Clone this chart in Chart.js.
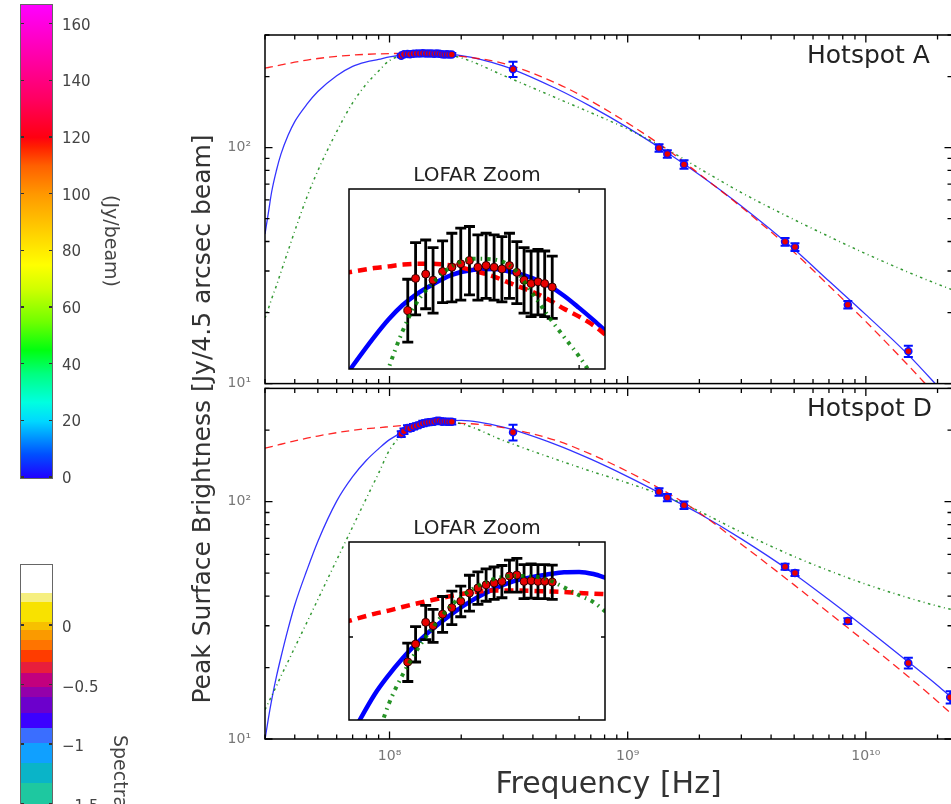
<!DOCTYPE html>
<html><head><meta charset="utf-8">
<script src="https://cdn.jsdelivr.net/npm/chart.js@4.4.1/dist/chart.umd.min.js"></script>
<style>
html,body{margin:0;padding:0;overflow:hidden;background:#fff;width:951px;height:804px;}
#wrap{position:relative;width:951px;height:804px;overflow:hidden;font-family:'DejaVu Sans',sans-serif;}
canvas{position:absolute;}
.t{position:absolute;white-space:nowrap;}
</style></head><body><div id="wrap">
<canvas id="cA" width="960" height="406" style="left:0;top:0"></canvas>
<canvas id="cD" width="960" height="438" style="left:0;top:366px"></canvas>
<canvas id="iA" width="266" height="210" style="left:344px;top:164px"></canvas>
<canvas id="iD" width="266" height="208" style="left:344px;top:517px"></canvas>
<div class="t" style="left:-118px;top:403.5px;width:640px;height:30px;line-height:30px;font-size:25px;text-align:center;color:#333;transform:rotate(-90deg);">Peak Surface Brightness [Jy/4.5 arcsec beam]</div>
<div class="t" style="left:807px;top:42px;font-size:25px;line-height:25px;color:#222;">Hotspot A</div>
<div class="t" style="left:807px;top:395px;font-size:25px;line-height:25px;color:#222;">Hotspot D</div>
<div id="cb1" style="position:absolute;left:20px;top:4px;width:33px;height:475px;box-sizing:border-box;border:1px solid #666;"></div>
<div id="cb2" style="position:absolute;left:20px;top:564px;width:33px;height:260px;box-sizing:border-box;border:1px solid #666;"></div>
<div class="t" style="left:52px;top:229px;width:120px;height:24px;line-height:24px;font-size:19px;text-align:center;color:#444;transform:rotate(90deg);">(Jy/beam)</div>
<div class="t" style="left:132px;top:735px;line-height:22px;font-size:19px;color:#444;transform-origin:0 0;transform:rotate(90deg);">Spectral Index</div>
</div>
<script>
// ---------------- data ----------------
const freqGrid = [3e7, 3.1e7, 3.2e7, 3.35e7, 3.5e7, 3.75e7, 4e7, 4.5e7, 5e7, 6e7, 7e7, 8e7, 9e7, 1e8, 1.2e8, 1.5e8, 2e8, 3e8, 5e8, 7e8, 1e9, 1.5e9, 2e9, 3e9, 5e9, 7e9, 1e10, 1.5e10, 2e10, 2.3e10];
const blueA  = [43, 53, 65, 80, 93.8, 112.7, 128.9, 152.7, 172.8, 201.7, 221, 230.8, 236.4, 242.3, 248, 250, 245.5, 222, 178, 149.5, 121.5, 93.7, 76.8, 56.6, 37.1, 27.2, 19.6, 13.3, 9.75, 8.34];
const redA   = [217, 218.5, 220, 222.2, 224, 227.2, 230, 234.8, 238.5, 243.5, 246.5, 248.5, 249.6, 250.3, 250.6, 249.3, 243.5, 227.5, 187.8, 157.7, 127, 96.5, 77.2, 56, 36, 26, 18.3, 12, 8.8, 7.6];
const greenA = [18.96, 20.8, 22.9, 26.0, 29.7, 36.5, 44.3, 61.7, 79.8, 116.9, 154.8, 186.1, 211.3, 234, 248, 251, 240, 202.4, 162.5, 140.6, 119.8, 97, 81.6, 64.5, 49.5, 42, 35.5, 29.7, 26.4, 25.0];
const blueD  = [9.95, 12.2, 14.6, 18.3, 22.1, 29.1, 36.7, 51.5, 68, 100.5, 127.4, 149.4, 167.1, 182.5, 201, 215, 220, 206, 174, 151, 127.5, 103.5, 88.9, 69.7, 49.6, 38.6, 29.3, 21.2, 16.8, 14.9];
const redD   = [168, 169.4, 170.7, 172.6, 174.5, 177.5, 180.3, 185, 189, 195.2, 199.7, 202.9, 205, 207, 210.5, 213.5, 213.5, 205, 181, 158.5, 133.9, 107.6, 89.8, 66.2, 44.6, 34, 25.6, 18.4, 14.4, 12.7];
const greenD = [13.3, 14.2, 15.2, 16.7, 18.4, 21.2, 24.3, 31.0, 38.7, 56.8, 78.3, 103.5, 131.8, 165, 201, 218, 213, 181.1, 150.7, 134.4, 119.9, 103.6, 91.0, 74.3, 58.7, 51.2, 44.9, 39.4, 36.3, 35.1];

const lofarFreq = [1.12e8, 1.15e8, 1.19e8, 1.22e8, 1.26e8, 1.30e8, 1.34e8, 1.38e8, 1.42e8, 1.46e8, 1.50e8, 1.54e8, 1.58e8, 1.62e8, 1.66e8, 1.70e8, 1.74e8, 1.78e8, 1.826e8];
const lofarA    = [245.2, 248.9, 249.4, 248.7, 249.7, 250.2, 250.6, 251.0, 250.2, 250.4, 250.2, 250.0, 250.4, 249.6, 248.7, 248.3, 248.5, 248.3, 247.9];
const lofarAerr = [3.6, 4.2, 4.0, 3.8, 3.6, 4.0, 4.2, 4.0, 3.8, 3.8, 3.8, 3.8, 3.8, 3.6, 3.8, 3.8, 3.8, 3.8, 3.6];
const lofarD    = [192.7, 197.9, 204.4, 203.4, 206.9, 208.9, 210.9, 213.5, 215.1, 216.1, 216.7, 217.2, 219.0, 219.3, 217.2, 217.4, 217.2, 217.2, 217.0];
const lofarDerr = [5.5, 5.2, 5.2, 5.0, 5.5, 5.2, 4.8, 5.7, 5.2, 5.2, 5.2, 5.2, 5.2, 5.5, 5.5, 5.5, 5.5, 5.5, 5.5];

const highFreqA = [3.3e8, 1.354e9, 1.467e9, 1.724e9, 4.58e9, 5.04e9, 8.4e9, 1.508e10];
const highA     = [215, 99.7, 94, 84.8, 39.9, 37.9, 21.6, 13.7];
const highAerr  = [16, 3.6, 3.4, 3.5, 1.5, 1.4, 0.8, 0.75];
const highFreqD = [3.3e8, 1.354e9, 1.467e9, 1.724e9, 4.58e9, 5.04e9, 8.4e9, 1.508e10, 2.26e10];
const highD     = [196, 110, 104, 96.6, 53.2, 50, 31.4, 20.9, 15];
const highDerr  = [15, 4, 3.7, 3.5, 1.5, 1.4, 0.9, 1.1, 0.9];

const insetFreq   = [9.0e7, 1.0e8, 1.05e8, 1.1e8, 1.15e8, 1.2e8, 1.3e8, 1.4e8, 1.5e8, 1.6e8, 1.7e8, 1.8e8, 1.9e8, 2.0e8, 2.1e8, 2.2e8];
const insetBlueA  = [237.5, 242.2, 244.2, 245.8, 247.0, 247.9, 249.3, 249.9, 250.0, 249.6, 249.0, 248.1, 246.9, 245.5, 244.1, 242.7];
const insetRedA   = [249.5, 250.1, 250.3, 250.5, 250.6, 250.6, 250.4, 249.8, 249.1, 248.2, 247.4, 246.5, 245.4, 244.5, 243.5, 242.3];
const insetGreenA = [226, 233.5, 238.7, 242.8, 245.9, 247.8, 250.3, 251.2, 251.1, 250.1, 247.4, 244.6, 242.2, 240.0, 237.6, 235];
const insetBlueD  = [169, 183.5, 189, 193.7, 197.8, 201.3, 207, 211.5, 214.8, 217.2, 218.6, 219.5, 220.2, 220.3, 219.6, 218.2];
const insetRedD   = [204.3, 207, 208, 209.1, 210.1, 211, 212.6, 213.8, 214.3, 214.3, 214.2, 214.0, 213.8, 213.5, 213.3, 213.1];
const insetGreenD = [150, 170, 181, 189, 195.5, 201, 209.8, 215, 218, 219, 218.9, 217.8, 215.3, 212.8, 210.6, 207.2];

// axes
const xRange = [3e7, 2.3e10];
const yRange = [10, 300];
const xTickVals = [3e7,4e7,5e7,6e7,7e7,8e7,9e7,1e8,2e8,3e8,4e8,5e8,6e8,7e8,8e8,9e8,1e9,2e9,3e9,4e9,5e9,6e9,7e9,8e9,9e9,1e10,2e10];
const yTickVals = [10,20,30,40,50,60,70,80,90,100,200,300];
const xMajor = [1e8, 1e9, 1e10];
const xTickText = ['10\u2078', '10\u2079', '10\u00B9\u2070'];
const yMajor = [10, 100];
const yTickText = ['10\u00B9', '10\u00B2'];
const insetXRange = [9.18e7, 2.183e8];
const insetYRangeA = [238.6, 259.5];
const insetYRangeD = [176.8, 230.3];
const insetXTicks = [2e8];
const insetYTicksA = [];
const insetYTicksD = [200];

// colorbars
const cb1Vals = [0, 20, 40, 60, 80, 100, 120, 140, 160];
const cb1Max = 166.6;
const cb2Vals = [0, -0.5, -1, -1.5];
const cb2Text = ['0', '\u22120.5', '\u22121', '\u22121.5'];

// ---------------- plugins ----------------
Chart.defaults.font.family = "'DejaVu Sans', sans-serif";
Chart.defaults.animation = false;

const P = (xs, ys) => xs.map((x, i) => ({x: x, y: ys[i]}));

function kindOf(v) {
  const e = Math.floor(Math.log10(v) + 1e-9);
  const m = v / Math.pow(10, e);
  const r = Math.round(m);
  if (Math.abs(m - r) > 1e-6) return null;
  return r === 1 ? 'major' : 'minor';
}

const frameTicks = {
  id: 'frameTicks',
  afterDraw(chart, args, o) {
    const ctx = chart.ctx, a = chart.chartArea;
    const xs = chart.scales.x, ys = chart.scales.y;
    ctx.save();
    ctx.strokeStyle = '#000';
    ctx.lineWidth = o.tickWidth;
    ctx.beginPath();
    xs.ticks.forEach(t => {
      const k = kindOf(t.value);
      if (!k || (k === 'major' && !o.major)) return;
      const L = k === 'major' ? o.majorLen : o.minorLen;
      const p = xs.getPixelForValue(t.value);
      if (p < a.left - 0.5 || p > a.right + 0.5) return;
      ctx.moveTo(p, a.bottom); ctx.lineTo(p, a.bottom - L);
      ctx.moveTo(p, a.top); ctx.lineTo(p, a.top + L);
    });
    ys.ticks.forEach(t => {
      const k = kindOf(t.value);
      if (!k || (k === 'major' && !o.major)) return;
      const L = k === 'major' ? o.majorLen : o.minorLen;
      const p = ys.getPixelForValue(t.value);
      if (p < a.top - 0.5 || p > a.bottom + 0.5) return;
      ctx.moveTo(a.left, p); ctx.lineTo(a.left + L, p);
      ctx.moveTo(a.right, p); ctx.lineTo(a.right - L, p);
    });
    ctx.stroke();
    ctx.lineWidth = o.frameWidth;
    ctx.strokeRect(a.left, a.top, a.right - a.left, a.bottom - a.top);
    ctx.restore();
  }
};

const errorBars = {
  id: 'errorBars',
  beforeDatasetDraw(chart, args) {
    const ds = chart.data.datasets[args.index];
    if (!ds.errors) return;
    const ctx = chart.ctx, a = chart.chartArea;
    const xs = chart.scales.x, ys = chart.scales.y;
    ctx.save();
    ctx.beginPath(); ctx.rect(a.left, a.top, a.right - a.left, a.bottom - a.top); ctx.clip();
    ctx.strokeStyle = ds.errColor; ctx.lineWidth = ds.errWidth;
    ctx.beginPath();
    const c = ds.capHalf;
    ds.data.forEach((p, i) => {
      const e = ds.errors[i];
      const x = xs.getPixelForValue(p.x);
      const y1 = ys.getPixelForValue(p.y - e), y2 = ys.getPixelForValue(p.y + e);
      ctx.moveTo(x, y1); ctx.lineTo(x, y2);
      ctx.moveTo(x - c, y1); ctx.lineTo(x + c, y1);
      ctx.moveTo(x - c, y2); ctx.lineTo(x + c, y2);
    });
    ctx.stroke();
    ctx.restore();
  }
};

const whiteArea = {
  id: 'whiteArea',
  beforeDraw(chart) {
    const ctx = chart.ctx, a = chart.chartArea;
    ctx.save(); ctx.fillStyle = '#fff';
    ctx.fillRect(a.left, a.top, a.right - a.left, a.bottom - a.top);
    ctx.restore();
  }
};

// ---------------- charts ----------------
function curve(data, color, width, dash, order) {
  return {data: data, showLine: true, borderColor: color, borderWidth: width, borderDash: dash,
    pointRadius: 0, pointHoverRadius: 0, cubicInterpolationMode: 'monotone', order: order, fill: false};
}
function points(data, errs, r, edge, edgeW, errColor, errWidth, capHalf, order) {
  return {data: data, showLine: false, pointRadius: r, pointHoverRadius: r, backgroundColor: '#e80000',
    borderColor: edge, borderWidth: edgeW, errors: errs, errColor: errColor, errWidth: errWidth,
    capHalf: capHalf, order: order};
}

function mainOptions(showX, pad) {
  return {
    responsive: false, animation: false,
    layout: {padding: pad},
    plugins: {legend: {display: false}, tooltip: {enabled: false},
      frameTicks: {major: true, majorLen: 7.5, minorLen: 4.5, tickWidth: 1.3, frameWidth: 1.5}},
    events: [],
    scales: {
      x: {
        type: 'logarithmic', min: xRange[0], max: xRange[1],
        grid: {display: false, drawTicks: false}, border: {display: false},
        afterBuildTicks: s => { s.ticks = xTickVals.map(v => ({value: v})); },
        ticks: {display: showX, autoSkip: false, maxRotation: 0, minRotation: 0, padding: 9,
          color: '#777', font: {size: 14},
          callback: v => { const i = xMajor.indexOf(v); return i >= 0 ? xTickText[i] : ''; }},
        title: {display: showX, text: 'Frequency [Hz]', color: '#333', font: {size: 30},
          padding: {top: 0, bottom: 1}},
        afterFit: s => { s.height = showX ? 65 : 0; }
      },
      y: {
        type: 'logarithmic', position: 'left', min: yRange[0], max: yRange[1],
        grid: {display: false, drawTicks: false}, border: {display: false},
        afterBuildTicks: s => { s.ticks = yTickVals.map(v => ({value: v})); },
        ticks: {autoSkip: false, padding: 14, color: '#777', font: {size: 14},
          callback: v => { const i = yMajor.indexOf(v); return i >= 0 ? yTickText[i] : ''; }},
        afterFit: s => { s.width = 265; }
      }
    }
  };
}

function insetOptions(yr, yTicks, pad) {
  return {
    responsive: false, animation: false,
    layout: {padding: pad},
    events: [],
    plugins: {legend: {display: false}, tooltip: {enabled: false},
      title: {display: true, text: 'LOFAR Zoom', color: '#222', font: {size: 20, weight: 'normal'},
        padding: {top: 0, bottom: 1}},
      frameTicks: {major: false, majorLen: 0, minorLen: 4, tickWidth: 1.3, frameWidth: 1.5}},
    scales: {
      x: {type: 'logarithmic', min: insetXRange[0], max: insetXRange[1],
        grid: {display: false, drawTicks: false}, border: {display: false}, ticks: {display: false},
        afterBuildTicks: s => { s.ticks = insetXTicks.map(v => ({value: v})); },
        afterFit: s => { s.height = 0; }},
      y: {type: 'logarithmic', min: yr[0], max: yr[1],
        grid: {display: false, drawTicks: false}, border: {display: false}, ticks: {display: false},
        afterBuildTicks: s => { s.ticks = yTicks.map(v => ({value: v})); },
        afterFit: s => { s.width = 0; }}
    }
  };
}

const BLUE = 'rgba(0,0,255,0.8)', RED = 'rgba(255,0,0,0.85)', GREEN = 'rgba(0,128,0,0.8)';

new Chart(document.getElementById('cA'), {
  type: 'scatter',
  data: {datasets: [
    points(P(lofarFreq.concat(highFreqA), lofarA.concat(highA)), lofarAerr.concat(highAerr), 3.5, '#1010ff', 1.5, '#0010ff', 2, 4.5, 1),
    curve(P(freqGrid, greenA), GREEN, 1.5, [2.5, 3.5, 1, 3.5], 3),
    curve(P(freqGrid, redA), RED, 1.3, [8, 5], 4),
    curve(P(freqGrid, blueA), BLUE, 1.3, [], 5)
  ]},
  options: mainOptions(false, {left: 0, top: 35, right: 8, bottom: 20}),
  plugins: [frameTicks, errorBars]
});

new Chart(document.getElementById('cD'), {
  type: 'scatter',
  data: {datasets: [
    points(P(lofarFreq.concat(highFreqD), lofarD.concat(highD)), lofarDerr.concat(highDerr), 3.5, '#1010ff', 1.5, '#0010ff', 2, 4.5, 1),
    curve(P(freqGrid, greenD), GREEN, 1.5, [2.5, 3.5, 1, 3.5], 3),
    curve(P(freqGrid, redD), RED, 1.3, [8, 5], 4),
    curve(P(freqGrid, blueD), BLUE, 1.3, [], 5)
  ]},
  options: mainOptions(true, {left: 0, top: 20, right: 8, bottom: 0}),
  plugins: [frameTicks, errorBars]
});

new Chart(document.getElementById('iA'), {
  type: 'scatter',
  data: {datasets: [
    curve(P(insetFreq, insetGreenA), 'rgba(0,128,0,0.85)', 4, [3.5, 5, 1.5, 5], 1),
    points(P(lofarFreq, lofarA), lofarAerr, 4, '#300000', 1, '#000', 2.8, 5.5, 2),
    curve(P(insetFreq, insetRedA), '#ff0000', 4.5, [9, 6], 4),
    curve(P(insetFreq, insetBlueA), '#0000ff', 4.5, [], 5)
  ]},
  options: insetOptions(insetYRangeA, insetYTicksA, {left: 3, right: 3, top: 0, bottom: 3}),
  plugins: [whiteArea, frameTicks, errorBars]
});

new Chart(document.getElementById('iD'), {
  type: 'scatter',
  data: {datasets: [
    curve(P(insetFreq, insetGreenD), 'rgba(0,128,0,0.85)', 4, [3.5, 5, 1.5, 5], 1),
    points(P(lofarFreq, lofarD), lofarDerr, 4, '#300000', 1, '#000', 2.8, 5.5, 2),
    curve(P(insetFreq, insetRedD), '#ff0000', 4.5, [9, 6], 4),
    curve(P(insetFreq, insetBlueD), '#0000ff', 4.5, [], 5)
  ]},
  options: insetOptions(insetYRangeD, insetYTicksD, {left: 3, right: 3, top: 0, bottom: 3}),
  plugins: [whiteArea, frameTicks, errorBars]
});

// ---------------- colorbars ----------------
const wrap = document.getElementById('wrap');
const cb1 = document.getElementById('cb1');
cb1.style.background = 'linear-gradient(to top, #2000ff 0%, #0050ff 5%, #00d8ff 12%, #00ffe0 16%, #00ff80 22%, #00ff10 27%, #70ff00 33%, #d0ff00 40%, #ffff00 45%, #ffd000 52%, #ff9800 60%, #ff6000 66%, #ff2000 70%, #ff0010 72%, #ff0060 80%, #ff00a0 88%, #ff00ff 100%)';
const cb2 = document.getElementById('cb2');
cb2.style.background = 'linear-gradient(to bottom, #ffffff 0px, #ffffff 28px, #f6ef80 28px, #f6ef80 37px, #f8e200 37px, #f8e200 57px, #f7c000 57px, #f7c000 65px, #fa9a00 65px, #fa9a00 75px, #ff7400 75px, #ff7400 85px, #ff3c00 85px, #ff3c00 97px, #e81e3c 97px, #e81e3c 108px, #c2007e 108px, #c2007e 122px, #9400aa 122px, #9400aa 132px, #6c00cc 132px, #6c00cc 148px, #3c00ff 148px, #3c00ff 163px, #3a6eff 163px, #3a6eff 178px, #10a0ff 178px, #10a0ff 198px, #0ab4c8 198px, #0ab4c8 218px, #1ec8a0 218px, #1ec8a0 260px)';

function addLabel(text, y) {
  const d = document.createElement('div');
  d.className = 't';
  d.style.cssText = 'left:62px;top:' + (y - 10) + 'px;height:20px;line-height:20px;font-size:15px;color:#444;';
  d.textContent = text;
  wrap.appendChild(d);
}
function addTick(y) {
  [21, 49].forEach(x => {
    const d = document.createElement('div');
    d.style.cssText = 'position:absolute;left:' + x + 'px;top:' + (y - 0.75) + 'px;width:3px;height:1.5px;background:#333;';
    wrap.appendChild(d);
  });
}
cb1Vals.forEach(v => { const y = 477 - v * 472 / cb1Max; addLabel(String(v), y + 1); addTick(y); });
cb2Vals.forEach((v, i) => { const y = 625 - v * 119; addLabel(cb2Text[i], y + 2); addTick(y); });
</script>
</body></html>
